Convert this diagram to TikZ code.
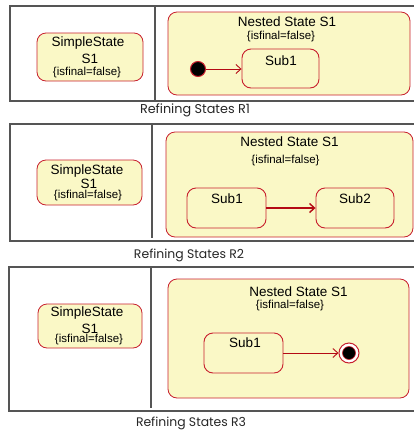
\documentclass[tikz,border=0pt]{standalone}
\usepackage{fontspec}
\setmainfont{Liberation Sans}
\newfontfamily\capfont{Poppins}
\usetikzlibrary{arrows.meta}
\definecolor{styellow}{HTML}{FAF8C6}
\definecolor{stred}{HTML}{C8202E}
\definecolor{arred}{HTML}{B40A14}
\definecolor{framegray}{HTML}{555555}
\tikzset{
  frameline/.style={draw=framegray, line width=1.1pt},
  statebox/.style={draw=stred, fill=styellow, line width=0.8pt, rounded corners=9pt},
  subbox/.style={draw=stred, fill=styellow, line width=0.9pt, rounded corners=9pt},
  nm/.style={font=\fontsize{13.5}{15}\selectfont, inner sep=0pt},
  tag/.style={font=\fontsize{11.5}{13}\selectfont, inner sep=0pt},
  caption/.style={inner sep=0pt, text=black!85},
  trans/.style={draw=arred, line width=0.9pt, -{Straight Barb[length=5pt,width=9pt]}},
  initdot/.style={circle, fill=black, draw=stred, line width=1pt, minimum size=15pt, inner sep=0pt},
  finalouter/.style={circle, fill=white, draw=stred, line width=1pt, minimum size=20pt, inner sep=0pt},
  finalinner/.style={circle, fill=black, draw=stred, line width=0.6pt, minimum size=13pt, inner sep=0pt},
}
\begin{document}
\begin{tikzpicture}[x=1pt, y=-1pt]
\useasboundingbox (0,0) rectangle (414,432);

% ---------- Panel R1 ----------
\draw[frameline] (414,6) -- (10,6) -- (10,101) -- (414,101);
\draw[frameline] (155,6) -- (155,101);
\draw[statebox] (37,33) rectangle (143,81);
\node[nm]  (s1a) at (88,43) {SimpleState};
\node[nm]  (s1b) at (90,58.5) {S1};
\node[tag] (s1c) at (87,72.5) {\{isfinal=false\}};
\draw[statebox] (168,12) rectangle (410,95);
\node[nm]  (n1a) at (287,22) {Nested State S1};
\node[tag] (n1b) at (281,37) {\{isfinal=false\}};
\node[subbox, minimum width=77pt, minimum height=39pt] (p1sub) at (280.5,68.5) {};
\node[nm] at (281,61) {Sub1};
\node[initdot] (p1init) at (198,69) {};
\draw[trans] (p1init) -- (p1init -| p1sub.west);
\node[caption] (cap1) at (195,110) {\resizebox{110pt}{!}{\capfont Refining States R1}};

% ---------- Panel R2 ----------
\draw[frameline] (414,124) -- (10,124) -- (10,241) -- (414,241);
\draw[frameline] (152,124) -- (152,238);
\draw[statebox] (37,160) rectangle (142,205);
\node[nm]  (s2a) at (87,171) {SimpleState};
\node[nm]  (s2b) at (89,184) {S1};
\node[tag] (s2c) at (88,196) {\{isfinal=false\}};
\draw[statebox] (166,132) rectangle (413,237);
\node[nm]  (n2a) at (289.5,142) {Nested State S1};
\node[tag] (n2b) at (285.5,161) {\{isfinal=false\}};
\node[subbox, minimum width=79pt, minimum height=40pt] (p2sub1) at (226.5,208) {};
\node[nm] at (227,199) {Sub1};
\node[subbox, minimum width=78pt, minimum height=40pt] (p2sub2) at (355,208) {};
\node[nm] at (355,199) {Sub2};
\draw[trans, line width=1.4pt] (p2sub1.east) -- (p2sub2.west);
\node[caption] (cap2) at (189,255) {\resizebox{110pt}{!}{\capfont Refining States R2}};

% ---------- Panel R3 ----------
\draw[frameline] (414,267) -- (9,267) -- (9,411) -- (414,411);
\draw[frameline] (151,267) -- (151,408);
\draw[statebox] (38,304) rectangle (142,348);
\node[nm]  (s3a) at (87,313) {SimpleState};
\node[nm]  (s3b) at (90,329) {S1};
\node[tag] (s3c) at (89,340) {\{isfinal=false\}};
\draw[statebox] (168,279) rectangle (409,398);
\node[nm]  (n3a) at (298.5,292) {Nested State S1};
\node[tag] (n3b) at (290,306) {\{isfinal=false\}};
\node[subbox, minimum width=79pt, minimum height=40pt] (p3sub) at (243.5,353) {};
\node[nm] at (245,343) {Sub1};
\node[finalouter] (p3final) at (349,353) {};
\node[finalinner] at (p3final) {};
\draw[trans] (p3sub.east) -- (p3final.west);
\node[caption] (cap3) at (191,423) {\resizebox{110pt}{!}{\capfont Refining States R3}};
\end{tikzpicture}
\end{document}
